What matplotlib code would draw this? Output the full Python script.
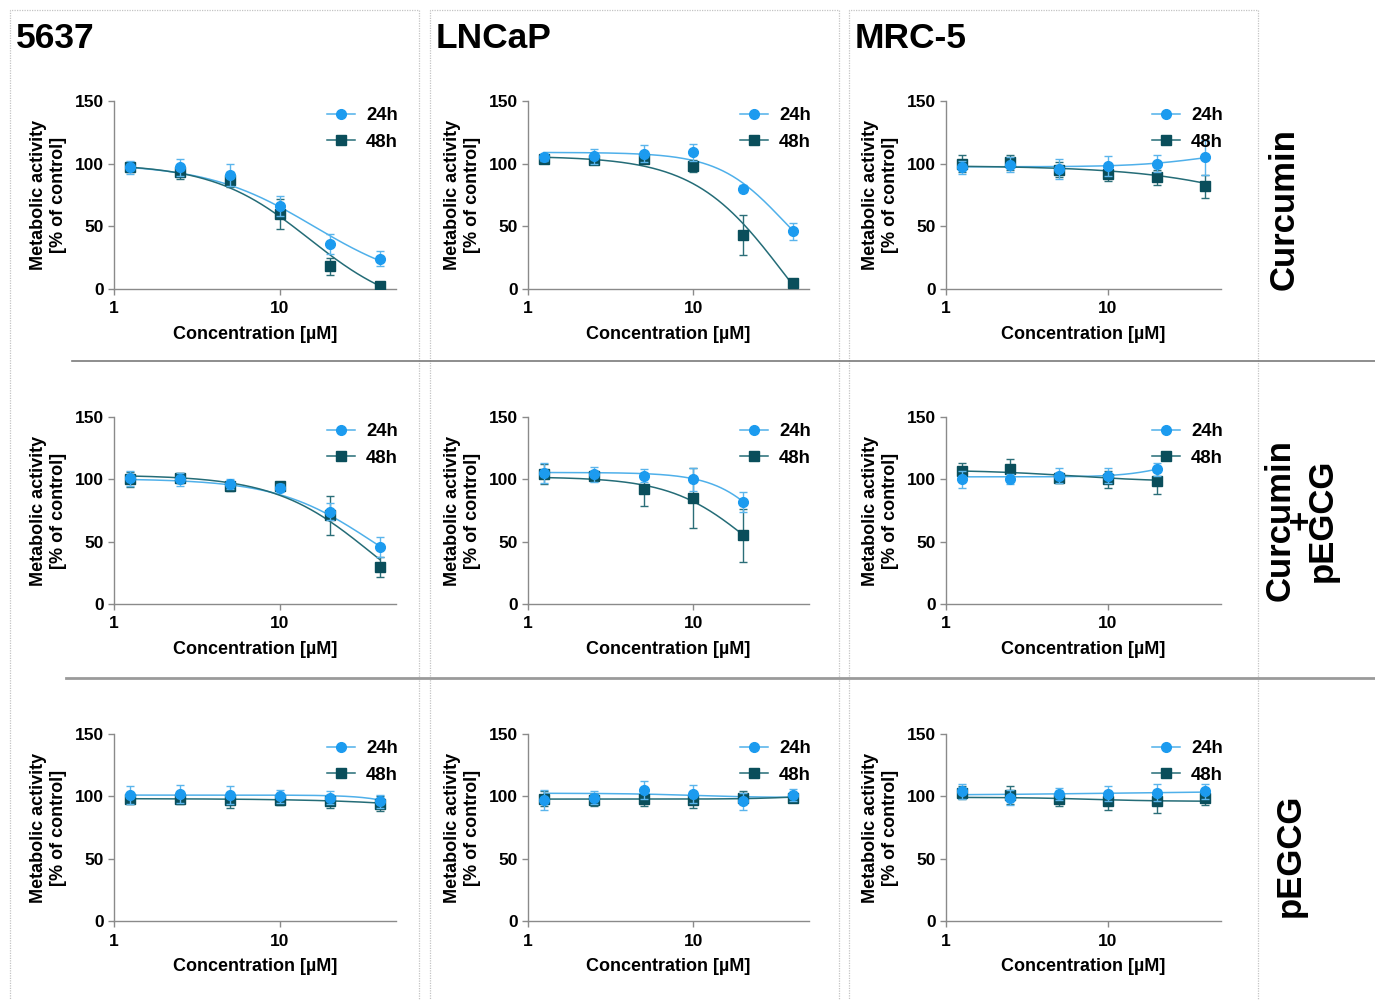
import numpy as np
import matplotlib
matplotlib.use("Agg")
import matplotlib.pyplot as plt
from matplotlib.lines import Line2D

plt.rcParams['font.family'] = ['Liberation Sans', 'DejaVu Sans']
plt.rcParams['font.weight'] = 'bold'

# ---------------- data ----------------
conc = [1.25, 2.5, 5, 10, 20, 40]
cell_lines = ["5637", "LNCaP", "MRC-5"]
treatments = ["Curcumin", "Curcumin\n+\npEGCG", "pEGCG"]
series_labels = ["24h", "48h"]

# row 1: Curcumin
cur_5637_24 = [97, 97, 91, 66, 36, 24]
cur_5637_24_err = [5, 7, 9, 8, 8, 6]
cur_5637_48 = [97, 93, 87, 60, 18, 2]
cur_5637_48_err = [4, 5, 6, 12, 7, 1]
cur_lncap_24 = [105, 106, 108, 109, 80, 46]
cur_lncap_24_err = [3, 6, 7, 7, 3, 7]
cur_lncap_48 = [104, 103, 104, 98, 43, 5]
cur_lncap_48_err = [3, 2, 3, 5, 16, 1]
cur_mrc5_24 = [97, 99, 96, 98, 100, 105]
cur_mrc5_24_err = [5, 6, 8, 8, 7, 14]
cur_mrc5_48 = [100, 101, 95, 92, 89, 82]
cur_mrc5_48_err = [7, 6, 6, 6, 6, 9]

# row 2: Curcumin + pEGCG (LNCaP and MRC-5 only up to 20 uM)
comb_5637_24 = [101, 100, 96, 93, 74, 46]
comb_5637_24_err = [6, 5, 4, 3, 7, 8]
comb_5637_48 = [100, 101, 95, 95, 71, 30]
comb_5637_48_err = [6, 4, 4, 3, 16, 8]
comb_lncap_24 = [105, 104, 103, 100, 82]
comb_lncap_24_err = [8, 6, 5, 9, 8]
comb_lncap_48 = [104, 103, 92, 85, 55]
comb_lncap_48_err = [8, 4, 13, 24, 21]
comb_mrc5_24 = [100, 100, 103, 103, 108]
comb_mrc5_24_err = [7, 4, 6, 6, 5]
comb_mrc5_48 = [107, 108, 101, 100, 99]
comb_mrc5_48_err = [6, 8, 4, 7, 11]

# row 3: pEGCG
peg_5637_24 = [101, 102, 101, 100, 99, 96]
peg_5637_24_err = [7, 7, 7, 5, 5, 5]
peg_5637_48 = [98, 98, 97, 97, 96, 94]
peg_5637_48_err = [4, 4, 6, 4, 5, 6]
peg_lncap_24 = [97, 99, 105, 102, 96, 101]
peg_lncap_24_err = [8, 5, 7, 7, 7, 5]
peg_lncap_48 = [98, 97, 98, 97, 99, 99]
peg_lncap_48_err = [6, 5, 6, 6, 5, 2]
peg_mrc5_24 = [104, 99, 102, 102, 103, 104]
peg_mrc5_24_err = [6, 6, 5, 6, 7, 6]
peg_mrc5_48 = [103, 101, 98, 96, 96, 99]
peg_mrc5_48_err = [5, 7, 6, 7, 9, 6]

# fitted dose-response curve parameters (top, bottom, IC50, hill)
fit_cur_5637 = [(100, 0, 16, 1.35), (100, -20, 15, 1.5)]
fit_cur_lncap = [(109, 0, 35, 2.2), (106, -80, 35, 1.6)]
fit_cur_mrc5 = [(97.5, 112, 40, 2.0), (98.5, 0, 260, 0.95)]
fit_comb_5637 = [(100.5, 0, 36, 1.5), (103.5, -20, 35, 1.5)]
fit_comb_lncap = [(105.5, 0, 33, 2.5), (102, 0, 22, 1.8)]
fit_comb_mrc5 = [(102, 120, 25, 3.0), (107.5, 98, 6, 1.5)]
fit_peg_5637 = [(101, 0, 116, 3.0), (98.2, 0, 1050, 1.0)]
fit_peg_lncap = [(102.5, 99, 10, 2.0), (97.8, 101, 40, 3.0)]
fit_peg_mrc5 = [(101, 104, 10, 1.0), (99.2, 96, 8, 2.0)]

panels = [
    [(cur_5637_24, cur_5637_24_err, cur_5637_48, cur_5637_48_err, fit_cur_5637),
     (cur_lncap_24, cur_lncap_24_err, cur_lncap_48, cur_lncap_48_err, fit_cur_lncap),
     (cur_mrc5_24, cur_mrc5_24_err, cur_mrc5_48, cur_mrc5_48_err, fit_cur_mrc5)],
    [(comb_5637_24, comb_5637_24_err, comb_5637_48, comb_5637_48_err, fit_comb_5637),
     (comb_lncap_24, comb_lncap_24_err, comb_lncap_48, comb_lncap_48_err, fit_comb_lncap),
     (comb_mrc5_24, comb_mrc5_24_err, comb_mrc5_48, comb_mrc5_48_err, fit_comb_mrc5)],
    [(peg_5637_24, peg_5637_24_err, peg_5637_48, peg_5637_48_err, fit_peg_5637),
     (peg_lncap_24, peg_lncap_24_err, peg_lncap_48, peg_lncap_48_err, fit_peg_lncap),
     (peg_mrc5_24, peg_mrc5_24_err, peg_mrc5_48, peg_mrc5_48_err, fit_peg_mrc5)],
]

# ---------------- styling ----------------
W, H = 1375, 1000
fig = plt.figure(figsize=(W / 100, H / 100), dpi=100)

c24, c48 = '#1C9BEF', '#0A4E5B'
c24_line, c48_line = '#4FB0EA', '#246C77'
c24_err, c48_err = '#5BB5EC', '#2B6E78'
spine_col = '#8a8a8a'

col_left = [114, 528, 946]
col_width = [282, 281, 275]
row_top = [101, 417, 734]
row_bot = [289, 604, 921]


def fig_rect(x0, y0, x1, y1):
    return [x0 / W, 1 - y1 / H, (x1 - x0) / W, (y1 - y0) / H]


def logistic(x, p):
    top, bottom, ic50, hill = p
    return bottom + (top - bottom) / (1 + (x / ic50) ** hill)


# column frames (dotted)
frame_ax = fig.add_axes([0, 0, 1, 1], zorder=-5)
frame_ax.set_xlim(0, W)
frame_ax.set_ylim(H, 0)
frame_ax.axis('off')
for x0, x1 in [(10, 419), (430, 839), (849, 1258)]:
    frame_ax.plot([x0, x0, x1, x1], [1005, 10, 10, 1005], color='#c4c4c4',
                  lw=0.9, ls=(0, (1, 1)))
frame_ax.plot([72, 1375], [361, 361], color='#7a7a7a', lw=1.2)
frame_ax.plot([66, 1375], [678, 678], color='#9a9a9a', lw=2.0)

# column titles
for x, name in zip([16, 436, 855], cell_lines):
    fig.text(x / W, 1 - 38 / H, name, fontsize=25.5, fontweight='bold', ha='left', va='center')

# row labels
row_label_pos = [(1284, 209), (1301, 520), (1290, 855)]
for (x, y), name in zip(row_label_pos, treatments):
    fig.text(x / W, 1 - y / H, name, fontsize=25, fontweight='bold', rotation=90,
             ha='center', va='center', multialignment='center', linespacing=0.53)

for r in range(3):
    for c in range(3):
        v24, e24, v48, e48, fits = panels[r][c]
        ax = fig.add_axes(fig_rect(col_left[c], row_top[r], col_left[c] + col_width[c], row_bot[r]))
        x = np.array(conc[:len(v24)])
        # fitted curves
        xf = np.logspace(np.log10(x[0]), np.log10(x[-1]), 200)
        ax.plot(xf, logistic(xf, fits[0]), color=c24_line, lw=1.1, zorder=2)
        ax.plot(xf, logistic(xf, fits[1]), color=c48_line, lw=1.1, zorder=2)
        # data points
        ax.errorbar(x, v48, yerr=e48, fmt='s', color=c48, ecolor=c48_err, elinewidth=1.0,
                    capsize=3, capthick=1.0, markersize=6.5, zorder=3)
        ax.errorbar(x, v24, yerr=e24, fmt='o', color=c24, ecolor=c24_err, elinewidth=1.0,
                    capsize=3, capthick=1.0, markersize=7, zorder=4)

        ax.set_xscale('log')
        ax.set_xlim(1, 50)
        ax.set_ylim(0, 150)
        ax.set_yticks([0, 50, 100, 150])
        ax.set_xticks([1, 10])
        ax.set_xticklabels(['1', '10'])
        ax.xaxis.set_minor_locator(matplotlib.ticker.NullLocator())
        for s in ['top', 'right']:
            ax.spines[s].set_visible(False)
        for s in ['left', 'bottom']:
            ax.spines[s].set_color(spine_col)
            ax.spines[s].set_linewidth(1.0)
        ax.tick_params(axis='both', direction='out', length=4, width=1.0, color=spine_col,
                       labelsize=12.5, pad=3)
        ax.tick_params(axis='x', pad=5)
        for lab in ax.get_xticklabels() + ax.get_yticklabels():
            lab.set_fontweight('bold')
        ax.set_xlabel("Concentration [µM]", fontsize=13, fontweight='bold', labelpad=7)
        ax.set_ylabel("Metabolic activity\n[% of control]", fontsize=13, fontweight='bold',
                      labelpad=6, linespacing=1.2)
        ax.patch.set_alpha(0)

        handles = [Line2D([], [], color=c24_line, marker='o', markerfacecolor=c24,
                          markeredgecolor=c24, markersize=7, lw=1.1),
                   Line2D([], [], color=c48_line, marker='s', markerfacecolor=c48,
                          markeredgecolor=c48, markersize=6.5, lw=1.1)]
        leg = ax.legend(handles, series_labels, loc='upper right', bbox_to_anchor=(1.03, 1.0),
                        frameon=False, fontsize=13.3, handlelength=1.5, handletextpad=0.6,
                        labelspacing=0.5, borderpad=0.35, borderaxespad=0)
        for t in leg.get_texts():
            t.set_fontweight('bold')

fig.savefig("out.png", dpi=100)
